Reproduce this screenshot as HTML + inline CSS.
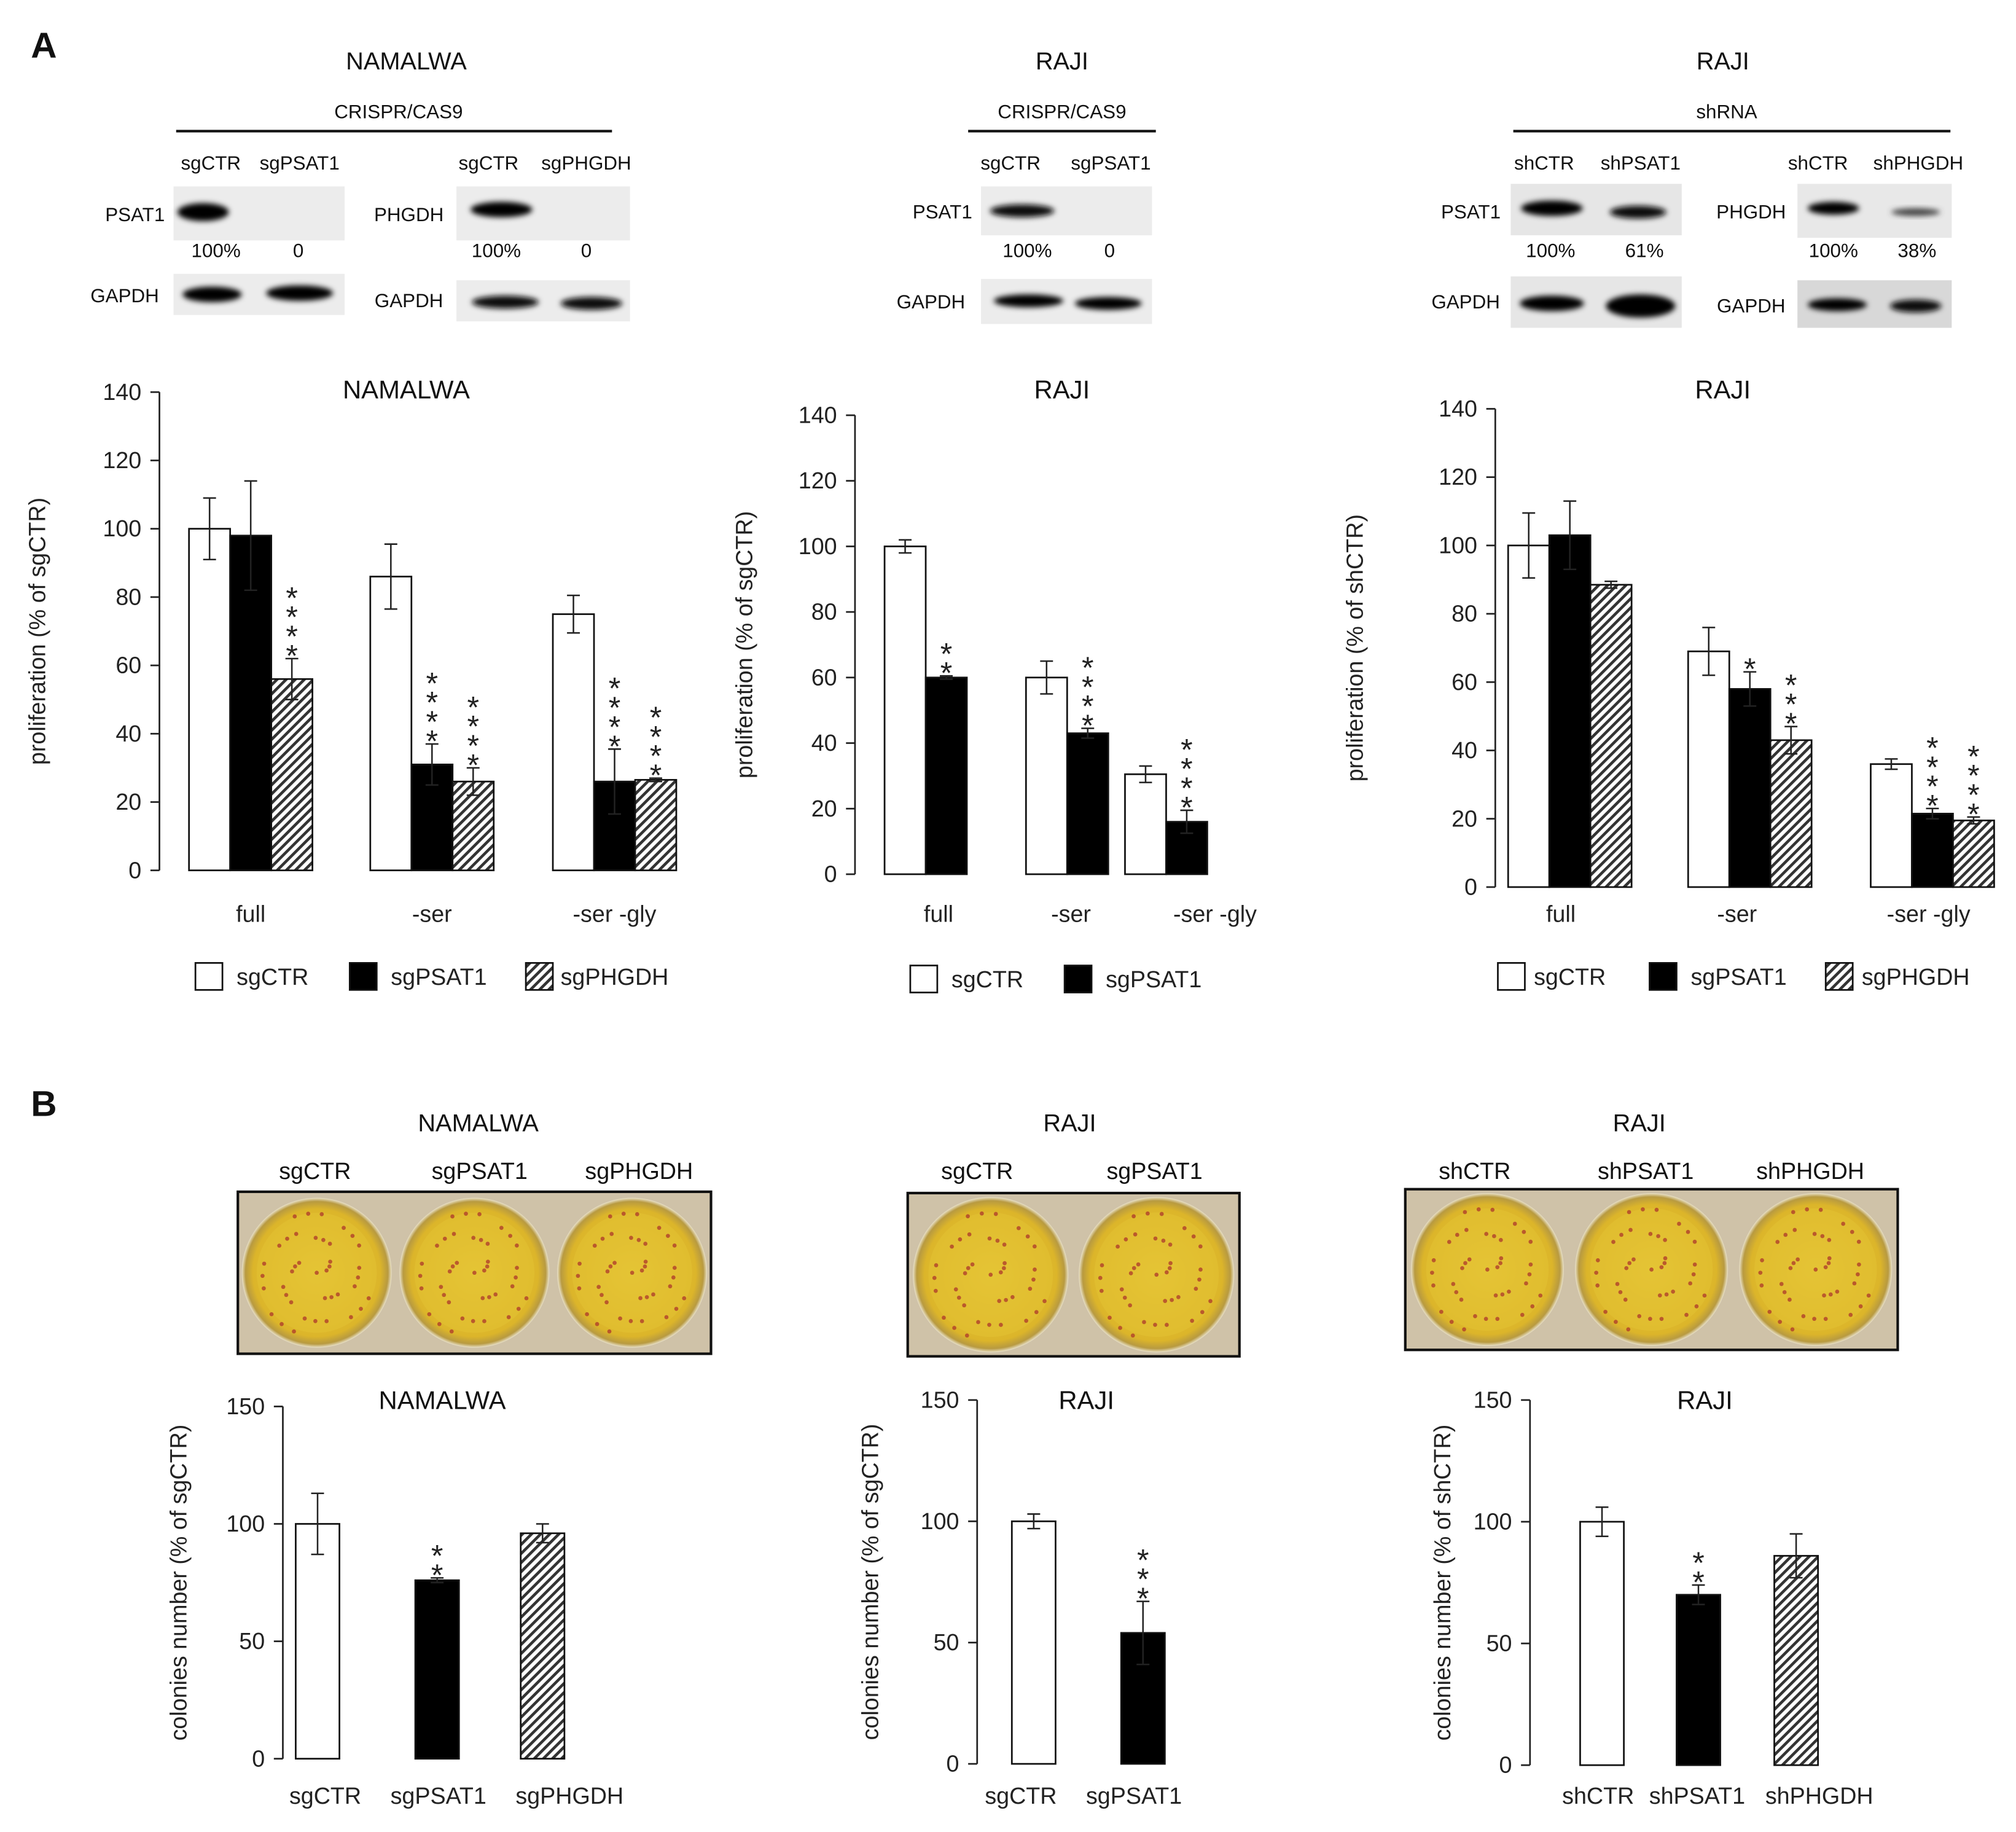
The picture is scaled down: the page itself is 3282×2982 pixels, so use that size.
<!DOCTYPE html>
<html><head><meta charset="utf-8">
<style>
html,body{margin:0;padding:0;background:#fff;}
svg{display:block;font-family:"Liberation Sans",sans-serif;}
</style></head>
<body>
<svg id="fig" width="3282" height="2982" viewBox="0 0 1568 1425" preserveAspectRatio="none" xmlns="http://www.w3.org/2000/svg">
<defs>
<pattern id="hatch" patternUnits="userSpaceOnUse" width="5" height="5" patternTransform="rotate(45)">
<rect width="5" height="5" fill="#fff"/><rect width="2.2" height="5" fill="#333"/>
</pattern>
<filter id="blur" x="-20%" y="-50%" width="140%" height="200%"><feGaussianBlur stdDeviation="2.2"/></filter>
<radialGradient id="plate" cx="50%" cy="50%" r="50%">
<stop offset="0" stop-color="#e8c83a"/><stop offset="0.85" stop-color="#dcb52a"/><stop offset="0.95" stop-color="#b89a40"/><stop offset="1" stop-color="#e8e0c8"/>
</radialGradient>
</defs>
<g id="static" font-size="15" fill="#111">
<text x="24" y="45" font-size="28" font-weight="bold">A</text>
<text x="24" y="868" font-size="28" font-weight="bold">B</text>
<g text-anchor="middle">
<text x="316" y="54" font-size="19">NAMALWA</text>
<text x="310" y="92">CRISPR/CAS9</text>
<rect x="137" y="101" width="339" height="2" fill="#111"/>
<text x="164" y="132">sgCTR</text><text x="233" y="132">sgPSAT1</text>
<text x="380" y="132">sgCTR</text><text x="456" y="132">sgPHGDH</text>
<rect x="135" y="145" width="133" height="42" fill="#ececec"/>
<ellipse cx="158" cy="165" rx="20" ry="7" fill="#000" filter="url(#blur)"/>
<text x="105" y="172" text-anchor="middle">PSAT1</text>
<text x="168" y="200">100%</text><text x="232" y="200">0</text>
<rect x="135" y="213" width="133" height="32" fill="#ececec"/>
<ellipse cx="165" cy="229" rx="23" ry="6" fill="#000" filter="url(#blur)"/>
<ellipse cx="233" cy="228" rx="26" ry="6" fill="#000" filter="url(#blur)"/>
<text x="97" y="235">GAPDH</text>
<rect x="355" y="145" width="135" height="42" fill="#ececec"/>
<ellipse cx="390" cy="163" rx="24" ry="6" fill="#000" filter="url(#blur)"/>
<text x="318" y="172">PHGDH</text>
<text x="386" y="200">100%</text><text x="456" y="200">0</text>
<rect x="355" y="218" width="135" height="32" fill="#ececec"/>
<ellipse cx="393" cy="235" rx="26" ry="5" fill="#111" filter="url(#blur)"/>
<ellipse cx="460" cy="236" rx="24" ry="5" fill="#111" filter="url(#blur)"/>
<text x="318" y="239">GAPDH</text>
</g>
<g text-anchor="middle">
<text x="826" y="54" font-size="19">RAJI</text>
<text x="826" y="92">CRISPR/CAS9</text>
<rect x="753" y="101" width="146" height="2" fill="#111"/>
<text x="786" y="132">sgCTR</text><text x="864" y="132">sgPSAT1</text>
<rect x="763" y="145" width="133" height="38" fill="#ececec"/>
<ellipse cx="795" cy="164" rx="25" ry="5" fill="#111" filter="url(#blur)"/>
<text x="733" y="170">PSAT1</text>
<text x="799" y="200">100%</text><text x="863" y="200">0</text>
<rect x="763" y="217" width="133" height="35" fill="#ececec"/>
<ellipse cx="800" cy="234" rx="27" ry="5" fill="#000" filter="url(#blur)"/>
<ellipse cx="862" cy="236" rx="26" ry="5" fill="#000" filter="url(#blur)"/>
<text x="724" y="240">GAPDH</text>
</g>
<g text-anchor="middle">
<text x="1340" y="54" font-size="19">RAJI</text>
<text x="1343" y="92">shRNA</text>
<rect x="1177" y="101" width="340" height="2" fill="#111"/>
<text x="1201" y="132">shCTR</text><text x="1276" y="132">shPSAT1</text>
<text x="1414" y="132">shCTR</text><text x="1492" y="132">shPHGDH</text>
<rect x="1175" y="143" width="133" height="40" fill="#e6e6e6"/>
<ellipse cx="1207" cy="162" rx="24" ry="6" fill="#000" filter="url(#blur)"/>
<ellipse cx="1274" cy="165" rx="22" ry="5" fill="#111" filter="url(#blur)"/>
<text x="1144" y="170">PSAT1</text>
<text x="1206" y="200">100%</text><text x="1279" y="200">61%</text>
<rect x="1175" y="215" width="133" height="40" fill="#e6e6e6"/>
<ellipse cx="1207" cy="236" rx="25" ry="6" fill="#000" filter="url(#blur)"/>
<ellipse cx="1276" cy="238" rx="27" ry="9" fill="#000" filter="url(#blur)"/>
<text x="1140" y="240">GAPDH</text>
<rect x="1398" y="143" width="120" height="42" fill="#e8e8e8"/>
<ellipse cx="1426" cy="162" rx="20" ry="5" fill="#000" filter="url(#blur)"/>
<ellipse cx="1490" cy="165" rx="19" ry="3" fill="#444" filter="url(#blur)"/>
<text x="1362" y="170">PHGDH</text>
<text x="1426" y="200">100%</text><text x="1491" y="200">38%</text>
<rect x="1398" y="218" width="120" height="37" fill="#d8d8d8"/>
<ellipse cx="1429" cy="237" rx="23" ry="5" fill="#000" filter="url(#blur)"/>
<ellipse cx="1490" cy="238" rx="20" ry="5" fill="#111" filter="url(#blur)"/>
<text x="1362" y="243">GAPDH</text>
</g>
<g text-anchor="middle" font-size="19">
<text x="372" y="880">NAMALWA</text>
<text x="245" y="917" font-size="18">sgCTR</text><text x="373" y="917" font-size="18">sgPSAT1</text><text x="497" y="917" font-size="18">sgPHGDH</text>
<text x="832" y="880">RAJI</text>
<text x="760" y="917" font-size="18">sgCTR</text><text x="898" y="917" font-size="18">sgPSAT1</text>
<text x="1275" y="880">RAJI</text>
<text x="1147" y="917" font-size="18">shCTR</text><text x="1280" y="917" font-size="18">shPSAT1</text><text x="1408" y="917" font-size="18">shPHGDH</text>
</g>
</g>
<g id="plates"></g>
<g id="charts"></g>
</svg>
<script>
const NS="http://www.w3.org/2000/svg";
function mk(tag,attrs,parent,txt){const e=document.createElementNS(NS,tag);for(const k in attrs)e.setAttribute(k,attrs[k]);if(txt!==undefined)e.textContent=txt;parent.appendChild(e);return e;}

// ---------- DATA ----------
const groupsA = ["full","-ser","-ser -gly"];
const seriesA1 = ["sgCTR","sgPSAT1","sgPHGDH"];
const a1CTR = [100,86,75];
const a1PSAT1 = [98,31,26];
const a1PHGDH = [56,26,26.5];
const a1CTRerr = [9,9.5,5.5];
const a1PSAT1err = [16,6,9.5];
const a1PHGDHerr = [6,4,0.5];
const a1PSAT1stars = [0,4,4];
const a1PHGDHstars = [4,4,4];

const seriesA2 = ["sgCTR","sgPSAT1"];
const a2CTR = [100,60,30.5];
const a2PSAT1 = [60,43,16];
const a2CTRerr = [2,5,2.5];
const a2PSAT1err = [0.5,1.5,3.5];
const a2PSAT1stars = [2,4,4];

const seriesA3 = ["sgCTR","sgPSAT1","sgPHGDH"];
const a3CTR = [100,69,36];
const a3PSAT1 = [103,58,21.5];
const a3PHGDH = [88.5,43,19.5];
const a3CTRerr = [9.5,7,1.5];
const a3PSAT1err = [10,5,1.5];
const a3PHGDHerr = [1,4,1];
const a3PSAT1stars = [0,1,4];
const a3PHGDHstars = [0,3,4];

const yTicksA = [0,20,40,60,80,100,120,140];
const yTicksB = [0,50,100,150];

const b1Cats = ["sgCTR","sgPSAT1","sgPHGDH"];
const b1Vals = [100,76,96];
const b1Err = [13,1,4];
const b1Stars = [0,2,0];
const b2Cats = ["sgCTR","sgPSAT1"];
const b2Vals = [100,54];
const b2Err = [3,13];
const b2Stars = [0,3];
const b3Cats = ["shCTR","shPSAT1","shPHGDH"];
const b3Vals = [100,70,86];
const b3Err = [6,4,9];
const b3Stars = [0,2,0];

const fills = ["#fff","#000","url(#hatch)"];

function axis(g,ax,y0,yTop,ticks,maxV,label,lblX){
  const ys=v=>y0-(v/maxV)*(y0-yTop);
  const ya=mk('line',{x1:ax,x2:ax,y1:ys(maxV),y2:y0,stroke:'#222','stroke-width':1.3},g);
  
  
  ticks.forEach(t=>{
    mk('line',{x1:ax-7,x2:ax,y1:ys(t),y2:ys(t),stroke:'#222','stroke-width':1.3},g);
    const tl=mk('text',{x:ax-14,y:ys(t)+6,'text-anchor':'end','font-size':18,fill:'#222'},g,String(t));
    
    
  });
  const yc=(y0+ys(maxV))/2;
  const yl=mk('text',{x:lblX,y:yc,'text-anchor':'middle','font-size':18,fill:'#222',transform:`rotate(-90 ${lblX} ${yc})`},g,label);
  
  
  return ys;
}
function bar(g,x,w,v,err,fill,stars,ys,y0,name){
  const r=mk('rect',{x:x,y:ys(v),width:w,height:y0-ys(v),fill:fill,stroke:'#111','stroke-width':1.3},g);
  
  
  const cx=x+w/2;
  mk('line',{x1:cx,x2:cx,y1:ys(v+err),y2:ys(Math.max(0,v-err)),stroke:'#222','stroke-width':1.2},g);
  mk('line',{x1:cx-5,x2:cx+5,y1:ys(v+err),y2:ys(v+err),stroke:'#222','stroke-width':1.2},g);
  mk('line',{x1:cx-5,x2:cx+5,y1:ys(v-err),y2:ys(v-err),stroke:'#222','stroke-width':1.2},g);
  for(let i=0;i<stars;i++){
    const s=mk('text',{x:cx,y:ys(v+err)+6-i*15,'text-anchor':'middle','font-size':24,fill:'#222'},g,'*');
    
    
  }
}
function legend(g,y,items){
  items.forEach(it=>{
    const b=mk('rect',{x:it.bx,y:y-11,width:21,height:21,fill:it.fill,stroke:'#111','stroke-width':1.3},g);
    
    
    const t=mk('text',{x:it.tx,y:y+6,'font-size':18,fill:'#222'},g,it.label);
    
    
  });
}
function title(g,x,y,s){const t=mk('text',{x:x,y:y,'text-anchor':'middle','font-size':20,fill:'#111'},g,s);
  
  }

const charts=document.getElementById('charts');

{
  const g=mk('g',{},charts);
  
  
  const y0=677,ax=124;
  const ys=axis(g,ax,y0,305,yTicksA,140,'proliferation  (% of sgCTR)',35);
  title(g,316,310,'NAMALWA');
  const gx=[147,288,430], bw=32;
  const vals=[a1CTR,a1PSAT1,a1PHGDH], errs=[a1CTRerr,a1PSAT1err,a1PHGDHerr], st=[[0,0,0],a1PSAT1stars,a1PHGDHstars];
  groupsA.forEach((c,i)=>{
    for(let s=0;s<3;s++) bar(g,gx[i]+s*bw,bw,vals[s][i],errs[s][i],fills[s],st[s][i],ys,y0,'bar-'+seriesA1[s]+'-'+i);
    const t=mk('text',{x:gx[i]+1.5*bw,y:717,'text-anchor':'middle','font-size':18,fill:'#222'},g,c);
    
    
  });
  legend(g,760,[{bx:152,tx:184,fill:fills[0],label:'sgCTR'},{bx:272,tx:304,fill:fills[1],label:'sgPSAT1'},{bx:409,tx:436,fill:fills[2],label:'sgPHGDH'}]);
}
{
  const g=mk('g',{},charts);
  
  
  const y0=680,ax=665;
  const ys=axis(g,ax,y0,323,yTicksA,140,'proliferation  (% of sgCTR)',585);
  title(g,826,310,'RAJI');
  const gx=[688,798,875], bw=32;
  const vals=[a2CTR,a2PSAT1], errs=[a2CTRerr,a2PSAT1err], st=[[0,0,0],a2PSAT1stars];
  groupsA.forEach((c,i)=>{
    for(let s=0;s<2;s++) bar(g,gx[i]+s*bw,bw,vals[s][i],errs[s][i],fills[s],st[s][i],ys,y0,'bar-'+seriesA2[s]+'-'+i);
    const t=mk('text',{x:[730,833,945][i],y:717,'text-anchor':'middle','font-size':18,fill:'#222'},g,c);
    
    
  });
  legend(g,762,[{bx:708,tx:740,fill:fills[0],label:'sgCTR'},{bx:828,tx:860,fill:fills[1],label:'sgPSAT1'}]);
}
{
  const g=mk('g',{},charts);
  
  
  const y0=690,ax=1163;
  const ys=axis(g,ax,y0,318,yTicksA,140,'proliferation  (% of shCTR)',1060);
  title(g,1340,310,'RAJI');
  const gx=[1173,1313,1455], bw=32;
  const vals=[a3CTR,a3PSAT1,a3PHGDH], errs=[a3CTRerr,a3PSAT1err,a3PHGDHerr], st=[[0,0,0],a3PSAT1stars,a3PHGDHstars];
  groupsA.forEach((c,i)=>{
    for(let s=0;s<3;s++) bar(g,gx[i]+s*bw,bw,vals[s][i],errs[s][i],fills[s],st[s][i],ys,y0,'bar-'+seriesA3[s]+'-'+i);
    const t=mk('text',{x:[1214,1351,1500][i],y:717,'text-anchor':'middle','font-size':18,fill:'#222'},g,c);
    
    
  });
  legend(g,760,[{bx:1165,tx:1193,fill:fills[0],label:'sgCTR'},{bx:1283,tx:1315,fill:fills[1],label:'sgPSAT1'},{bx:1420,tx:1448,fill:fills[2],label:'sgPHGDH'}]);
}
function chartB(name,ax,y0,yTop,bxs,bw,cats,vals,errs,stars,lblX,ylabel,tx,ty,ttl,labelXs){
  const g=mk('g',{},charts);
  
  
  const ys=axis(g,ax,y0,yTop,yTicksB,150,ylabel,lblX);
  title(g,tx,ty,ttl);
  cats.forEach((c,i)=>{
    bar(g,bxs[i],bw,vals[i],errs[i],fills[i],stars[i],ys,y0,'bar-'+c);
    const t=mk('text',{x:labelXs[i],y:1403,'text-anchor':'middle','font-size':18,fill:'#222'},g,c);
    
    
  });
}
chartB('chart-b-namalwa',220,1368,1094,[230,323,405],34,b1Cats,b1Vals,b1Err,b1Stars,145,'colonies number (% of sgCTR)',344,1096,'NAMALWA',[253,341,443]);
chartB('chart-b-raji-crispr',760,1372,1089,[787,872],34,b2Cats,b2Vals,b2Err,b2Stars,683,'colonies number (% of sgCTR)',845,1096,'RAJI',[794,882]);
chartB('chart-b-raji-shrna',1190,1373,1089,[1229,1304,1380],34,b3Cats,b3Vals,b3Err,b3Stars,1128,'colonies number (% of shCTR)',1326,1096,'RAJI',[1243,1320,1415]);

const plates=document.getElementById('plates');
function photo(name,x,y,w,h,n){
  const g=mk('g',{},plates);
  
  
  mk('rect',{x:x,y:y,width:w,height:h,fill:'#cfc2a8',stroke:'#111','stroke-width':2},g);
  const cw=w/n;
  for(let i=0;i<n;i++){
    const cx=x+cw*i+cw/2, cy=y+h/2, r=Math.min(cw,h)/2-3;
    mk('circle',{cx:cx,cy:cy,r:r,fill:'url(#plate)'},g);
    mk('circle',{cx:cx,cy:cy,r:r*0.8,fill:'#e3c232',opacity:0.6},g);
    for(let k=0;k<40;k++){
      const a=(k*2.399)%(2*Math.PI), rr=r*0.85*Math.sqrt(((k*37)%40)/40);
      mk('circle',{cx:cx+rr*Math.cos(a),cy:cy+rr*Math.sin(a),r:1.6,fill:'#b0402a',opacity:0.8},g);
    }
  }
}
photo('colony-plates-namalwa',185,927,368,126,3);
photo('colony-plates-raji-crispr',706,928,258,127,2);
photo('colony-plates-raji-shrna',1093,925,383,125,3);
</script>
</body></html>
